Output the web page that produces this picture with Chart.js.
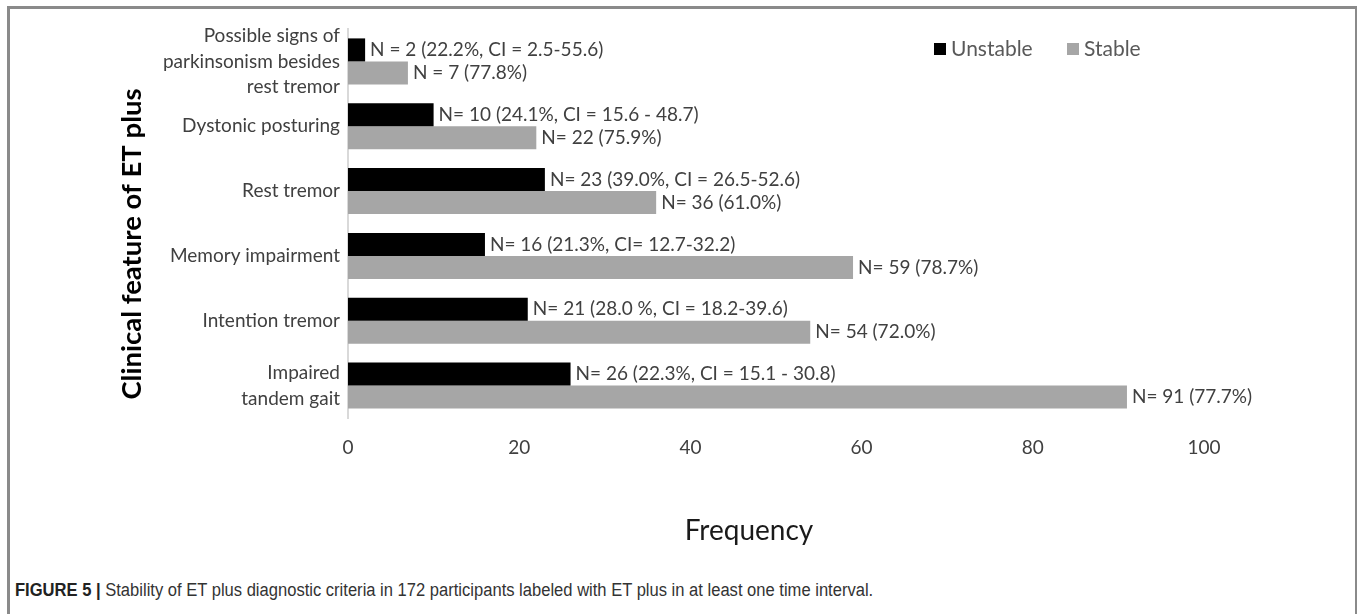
<!DOCTYPE html>
<html>
<head>
<meta charset="utf-8">
<script src="https://cdn.jsdelivr.net/npm/chart.js@4.4.0/dist/chart.umd.min.js"></script>
<style>
  html, body { margin: 0; padding: 0; background: #fff; width: 1357px; height: 614px; overflow: hidden; }
  #frame { position: absolute; left: 7px; top: 6px; width: 1345px; height: 640px;
           border: 3px solid #8a8a8a; border-bottom: none; }
  #wrap { position: absolute; left: 0; top: 0; width: 1357px; height: 575px; }
  #caption { position: absolute; left: 15px; top: 580px; font-family: 'Liberation Sans', Arial, sans-serif;
             font-size: 18px; color: #333; white-space: nowrap; transform: scaleX(0.92); transform-origin: 0 0; }
  #caption b { color: #222; }
</style>
</head>
<body>
<div id="frame"></div>
<div id="wrap"><canvas id="c" width="1357" height="575"></canvas></div>
<div id="caption"><b>FIGURE 5 |</b> Stability of ET plus diagnostic criteria in 172 participants labeled with ET plus in at least one time interval.</div>
<script>
const categories = [
  ["Possible signs of", "parkinsonism besides", "rest tremor"],
  "Dystonic posturing",
  "Rest tremor",
  "Memory impairment",
  "Intention tremor",
  ["Impaired", "tandem gait"]
];
const unstableValues = [2, 10, 23, 16, 21, 26];
const stableValues = [7, 22, 36, 59, 54, 91];
const unstableLabels = [
  "N = 2 (22.2%, CI = 2.5-55.6)",
  "N= 10 (24.1%, CI = 15.6 - 48.7)",
  "N= 23 (39.0%, CI = 26.5-52.6)",
  "N= 16 (21.3%, CI= 12.7-32.2)",
  "N= 21 (28.0 %, CI = 18.2-39.6)",
  "N= 26 (22.3%, CI = 15.1 - 30.8)"
];
const stableLabels = [
  "N = 7 (77.8%)",
  "N= 22 (75.9%)",
  "N= 36 (61.0%)",
  "N= 59 (78.7%)",
  "N= 54 (72.0%)",
  "N= 91 (77.7%)"
];
const xTicks = [0, 20, 40, 60, 80, 100];
const xTitle = "Frequency";
const yTitle = "Clinical feature of ET plus";
const seriesNames = ["Unstable", "Stable"];

const FONT = "Lato, 'Open Sans', sans-serif";

const barLabelPlugin = {
  id: 'barLabels',
  afterDatasetsDraw(chart) {
    const ctx = chart.ctx;
    const lbls = [unstableLabels, stableLabels];
    ctx.save();
    ctx.font = "19px " + FONT;
    ctx.fillStyle = "#404040";
    ctx.textAlign = "left";
    ctx.textBaseline = "middle";
    chart.data.datasets.forEach((ds, di) => {
      const meta = chart.getDatasetMeta(di);
      meta.data.forEach((bar, i) => {
        ctx.fillText(lbls[di][i], bar.x + 5, bar.y);
      });
    });
    ctx.restore();
  }
};

const extrasPlugin = {
  id: 'extras',
  afterDraw(chart) {
    const ctx = chart.ctx;
    ctx.save();
    const items = [
      {x: 934, color: chart.data.datasets[0].backgroundColor, text: chart.data.datasets[0].label},
      {x: 1067, color: chart.data.datasets[1].backgroundColor, text: chart.data.datasets[1].label}
    ];
    ctx.font = "21px " + FONT;
    ctx.textBaseline = "middle";
    ctx.textAlign = "left";
    items.forEach(it => {
      ctx.fillStyle = it.color;
      ctx.fillRect(it.x, 43, 12, 12);
      ctx.fillStyle = "#595959";
      ctx.fillText(it.text, it.x + 17, 49);
    });
    ctx.fillStyle = "#1a1a1a";
    ctx.font = "28px " + FONT;
    ctx.textAlign = "center";
    ctx.fillText(xTitle, 749, 531);
    ctx.translate(132, 244);
    ctx.rotate(-Math.PI / 2);
    ctx.font = "bold 27.5px " + FONT;
    ctx.fillStyle = "#000";
    ctx.fillText(yTitle, 0, 0);
    ctx.restore();
  }
};

new Chart(document.getElementById('c'), {
  type: 'bar',
  data: {
    labels: categories,
    datasets: [
      { label: seriesNames[0], data: unstableValues, backgroundColor: '#000000' },
      { label: seriesNames[1], data: stableValues, backgroundColor: '#a6a6a6' }
    ]
  },
  options: {
    indexAxis: 'y',
    responsive: false,
    devicePixelRatio: 1,
    animation: false,
    datasets: { bar: { categoryPercentage: 0.71, barPercentage: 1.0 } },
    layout: { padding: { left: 10, top: 29, right: 153, bottom: 0 } },
    plugins: { legend: { display: false }, tooltip: { enabled: false } },
    scales: {
      x: {
        min: 0, max: 100,
        afterFit(s) { s.height = 157; s.paddingLeft = 0; s.paddingRight = 0; },
        afterBuildTicks(s) { s.ticks = xTicks.map(v => ({ value: v })); },
        grid: { display: false, drawTicks: false },
        border: { display: false },
        ticks: { padding: 18, color: '#404040', font: { family: FONT, size: 19 }, maxRotation: 0, autoSkip: false }
      },
      y: {
        afterFit(s) { s.width = 338; s.paddingTop = 0; s.paddingBottom = 0; },
        grid: { display: false, drawTicks: false },
        border: { display: true, color: '#d9d9d9', width: 2 },
        ticks: { padding: 8, color: '#404040', autoSkip: false, font: { family: FONT, size: 19, lineHeight: 1.35 } }
      }
    }
  },
  plugins: [barLabelPlugin, extrasPlugin]
});
</script>
</body>
</html>
